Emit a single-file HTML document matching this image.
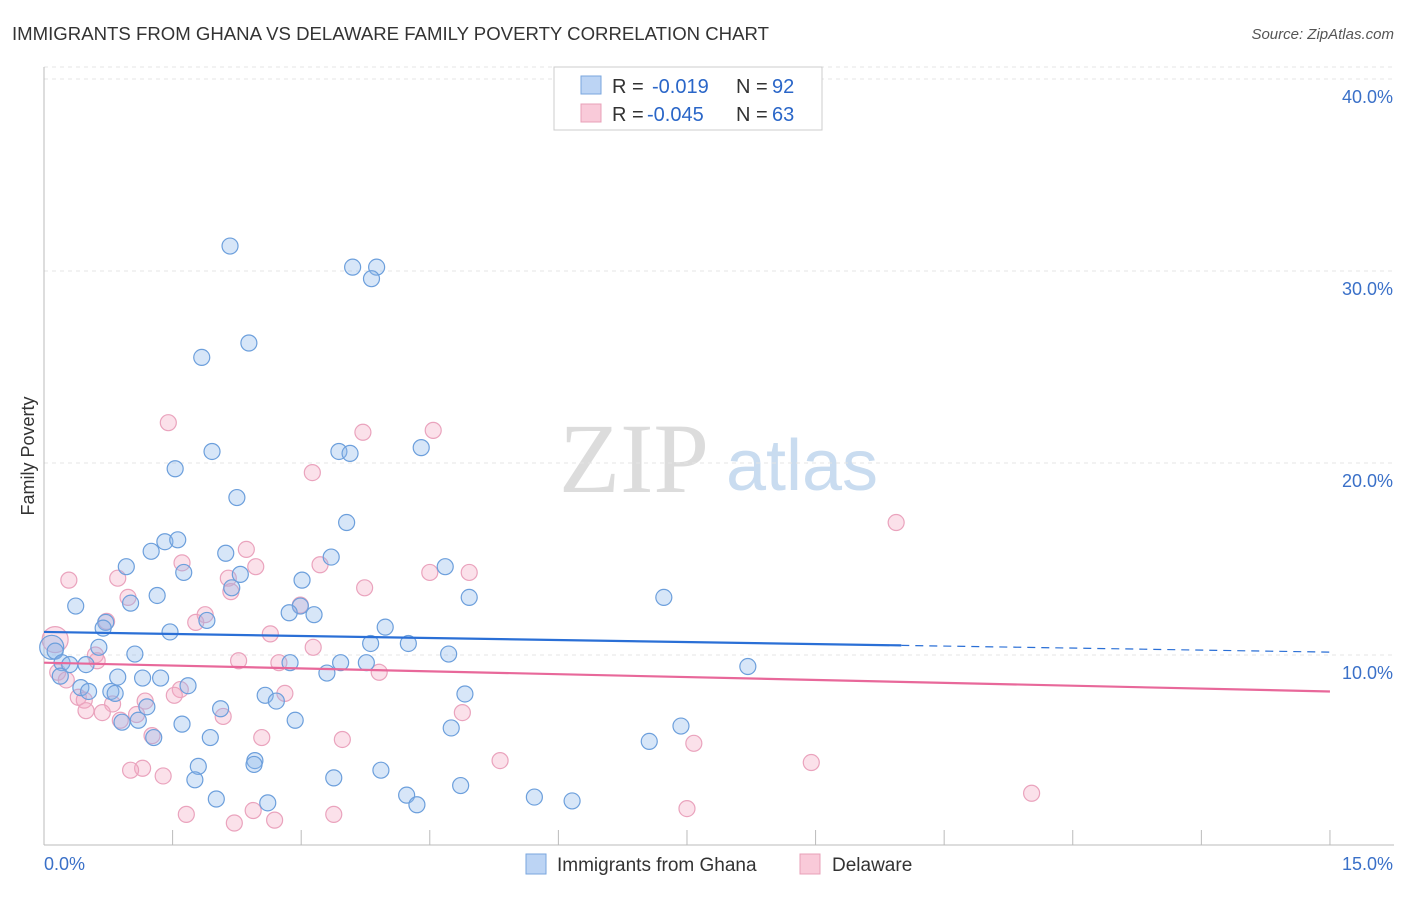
<!DOCTYPE html>
<html><head><meta charset="utf-8"><style>
body{margin:0;background:#fff;font-family:"Liberation Sans",sans-serif;}
</style></head><body>
<svg id="c" width="1406" height="892" font-family="Liberation Sans, sans-serif">
<text x="12" y="40" font-size="18.6" fill="#333">IMMIGRANTS FROM GHANA VS DELAWARE FAMILY POVERTY CORRELATION CHART</text>
<text x="1394" y="39" font-size="15" fill="#555" text-anchor="end" font-style="italic">Source: ZipAtlas.com</text>
<g>
<text x="634" y="492" font-size="100" fill="#dcdcdc" font-family="Liberation Serif, serif" text-anchor="middle">ZIP</text>
<text x="802" y="490" font-size="72" fill="#c9dcf0" text-anchor="middle">atlas</text>
</g>
<g id="grid"></g>
<g id="pts"></g>
<text transform="translate(34,456) rotate(-90)" font-size="18" fill="#333" text-anchor="middle">Family Poverty</text>
<g>
<rect x="554" y="67" width="268" height="63" fill="#fff" stroke="#ccc"/>
<rect x="581" y="76" width="20" height="18" fill="#bcd4f4" stroke="#7aa6de"/>
<rect x="581" y="104" width="20" height="18" fill="#f9cad9" stroke="#e8a0b8"/>
<text x="612" y="93" font-size="20" fill="#333">R =</text>
<text x="652" y="93" font-size="20" fill="#2a66c8">-0.019</text>
<text x="736" y="93" font-size="20" fill="#333">N =</text>
<text x="772" y="93" font-size="20" fill="#2a66c8">92</text>
<text x="612" y="121" font-size="20" fill="#333">R =</text>
<text x="647" y="121" font-size="20" fill="#2a66c8">-0.045</text>
<text x="736" y="121" font-size="20" fill="#333">N =</text>
<text x="772" y="121" font-size="20" fill="#2a66c8">63</text>
</g>
<g>
<rect x="526" y="854" width="20" height="20" fill="#bcd4f4" stroke="#7aa6de"/>
<text x="557" y="871" font-size="19" fill="#333">Immigrants from Ghana</text>
<rect x="800" y="854" width="20" height="20" fill="#f9cad9" stroke="#e8a0b8"/>
<text x="832" y="871" font-size="19" fill="#333">Delaware</text>
</g>
</svg>
<script>
const yTicks=[10,20,30,40];
const xTickLabels=["0.0%","15.0%"];
const blueX=[2.17,3.60,3.88,3.82,2.39,1.84,1.96,3.44,3.57,4.40,1.53,2.25,3.53,1.41,1.56,1.25,2.12,3.35,0.96,4.68,1.63,2.29,3.01,2.19,1.32,4.96,7.23,0.37,1.01,2.99,2.86,3.15,1.90,0.72,0.69,3.98,1.47,0.64,3.81,4.25,0.09,0.13,1.06,4.72,0.21,0.30,0.49,2.87,3.46,3.76,8.21,0.19,0.86,1.15,1.36,3.30,0.43,0.52,0.78,0.83,1.68,2.58,2.71,4.91,1.20,2.06,0.91,1.10,1.61,2.93,4.75,7.43,1.28,1.94,7.06,2.46,2.45,1.80,1.76,3.38,3.93,4.86,4.23,4.35,5.72,6.16,2.01,2.61];
const blueY=[31.3,30.2,30.2,29.6,26.25,25.5,20.6,20.6,20.5,20.8,19.7,18.2,16.9,15.9,16.0,15.4,15.3,15.1,14.6,14.6,14.3,14.2,13.9,13.5,13.1,13.0,13.0,12.55,12.7,12.55,12.2,12.1,11.8,11.7,11.4,11.45,11.2,10.4,10.6,10.6,10.4,10.2,10.05,10.05,9.6,9.5,9.5,9.6,9.6,9.6,9.4,8.9,8.85,8.8,8.8,9.06,8.3,8.1,8.1,8.0,8.4,7.9,7.6,7.97,7.3,7.2,6.5,6.6,6.4,6.6,6.2,6.3,5.7,5.7,5.5,4.5,4.3,4.2,3.5,3.6,4.0,3.2,2.7,2.2,2.6,2.4,2.5,2.3];
const pinkX=[1.45,3.72,4.54,3.13,9.94,2.36,1.61,3.22,2.47,4.50,4.96,0.29,0.86,2.15,3.74,2.18,0.98,2.99,1.88,1.77,0.73,2.64,3.14,0.60,0.62,2.27,2.74,0.13,0.16,0.26,3.91,2.81,1.59,1.52,0.40,0.47,1.18,0.80,0.49,0.68,1.08,2.09,4.88,0.89,1.26,2.54,3.48,7.58,5.32,8.95,1.15,1.01,1.39,11.52,1.66,2.44,7.50,2.22,2.69,3.38];
const pinkY=[22.1,21.6,21.7,19.5,16.9,15.5,14.8,14.7,14.6,14.3,14.3,13.9,14.0,14.0,13.5,13.3,13.0,12.6,12.1,11.7,11.75,11.1,10.4,10.0,9.7,9.7,9.6,10.8,9.1,8.7,9.1,8.0,8.2,7.9,7.8,7.65,7.6,7.45,7.1,7.0,6.9,6.8,7.0,6.6,5.8,5.7,5.6,5.4,4.5,4.4,4.1,4.0,3.7,2.8,1.7,1.9,2.0,1.25,1.4,1.7];
const blueTrend=[11.2,10.5,10.15];
const pinkTrend=[9.6,8.1];
const X=v=>44+v*85.73, Y=v=>847-v*19.2;
const NS="http://www.w3.org/2000/svg";
function mk(p,t,a){const e=document.createElementNS(NS,t);for(const k in a)e.setAttribute(k,a[k]);p.appendChild(e);return e;}
const g=document.getElementById('grid'), P=document.getElementById('pts');
mk(g,'line',{x1:44,y1:Y(40)-12,x2:1394,y2:Y(40)-12,stroke:'#e4e4e4','stroke-dasharray':'4 4'});
yTicks.forEach(t=>{
 const l=mk(g,'line',{x1:44,y1:Y(t),x2:1394,y2:Y(t),stroke:'#e4e4e4','stroke-dasharray':'4 4'});
 
 
 const tx=mk(g,'text',{x:1393,y:Y(t)+24,'font-size':18,fill:'#3a70c8','text-anchor':'end'});tx.textContent=t.toFixed(1)+'%';
 
 
});
mk(g,'line',{x1:44,y1:67,x2:44,y2:845,stroke:'#bbb'});
mk(g,'line',{x1:44,y1:845,x2:1394,y2:845,stroke:'#bbb'});
for(let i=0;i<=10;i++){mk(g,'line',{x1:X(i*1.5),y1:830,x2:X(i*1.5),y2:845,stroke:'#bbb'});}
const a=mk(g,'text',{x:44,y:870,'font-size':18,fill:'#3a70c8'});a.textContent=xTickLabels[0];


const b=mk(g,'text',{x:1393,y:870,'font-size':18,fill:'#3a70c8','text-anchor':'end'});b.textContent=xTickLabels[1];


function dot(x,y,r,fill,stroke,name){const c=mk(P,'circle',{cx:X(x),cy:Y(y),r:r,fill:fill,stroke:stroke,'stroke-width':1.2});
 
 }
pinkX.forEach((x,i)=>dot(x,pinkY[i],i==27?13:8,'rgba(244,170,196,0.35)','#eaa3bd','delaware-point'));
blueX.forEach((x,i)=>dot(x,blueY[i],(i==40)?12:8,'rgba(140,184,236,0.35)','#6c9fdc','ghana-point'));
const bl=mk(P,'line',{x1:X(0),y1:Y(blueTrend[0]),x2:X(10),y2:Y(blueTrend[1]),stroke:'#2a6fd6','stroke-width':2.2});


mk(P,'line',{x1:X(10),y1:Y(blueTrend[1]),x2:X(15),y2:Y(blueTrend[2]),stroke:'#2a6fd6','stroke-width':1.2,'stroke-dasharray':'8 6'});
const pl=mk(P,'line',{x1:X(0),y1:Y(pinkTrend[0]),x2:X(15),y2:Y(pinkTrend[1]),stroke:'#e8689a','stroke-width':2.2});


</script>
</body></html>
